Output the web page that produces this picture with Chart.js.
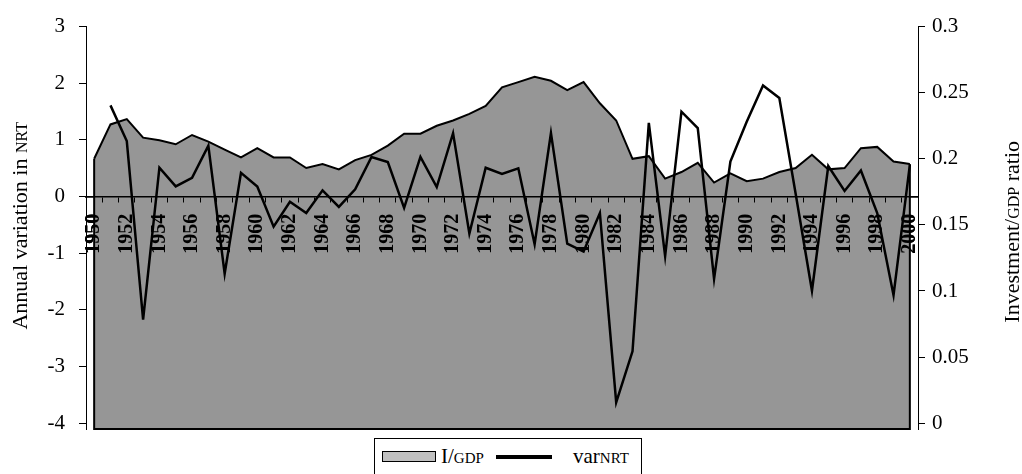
<!DOCTYPE html>
<html>
<head>
<meta charset="utf-8">
<script src="https://cdn.jsdelivr.net/npm/chart.js@4.4.1/dist/chart.umd.min.js"></script>
<style>
  html, body { margin: 0; padding: 0; background: #fff; }
  #wrap { position: relative; width: 1022px; height: 474px; overflow: hidden; }
  #legend {
    position: absolute; left: 374px; top: 438px; width: 268px; height: 42px;
    border: 1px solid #000; box-sizing: border-box; color: #000; background: #fff;
  }
  #legend .sw { position: absolute; left: 7px; top: 12px; width: 54px; height: 11px; box-sizing: border-box; background: #c0c0c0; border: 1px solid #000; }
  #legend .ln { position: absolute; left: 121px; top: 16px; width: 56px; height: 4px; background: #000; }
  #legend .tx { position: absolute; top: 0; height: 34px; line-height: 34px; font-size: 21px; white-space: nowrap; }
  #legend .tx small { font-size: 15px; }
</style>
</head>
<body>
<div id="wrap">
  <canvas id="chart"></canvas>
  <div id="legend">
    <div class="sw"></div><div class="tx" style="left:66px">I/<small>GDP</small></div>
    <div class="ln"></div><div class="tx" style="left:198px">var<small>NRT</small></div>
  </div>
</div>
<script>
// years on the category axis
const years = ['1950', '1951', '1952', '1953', '1954', '1955', '1956', '1957', '1958', '1959',
  '1960', '1961', '1962', '1963', '1964', '1965', '1966', '1967', '1968', '1969',
  '1970', '1971', '1972', '1973', '1974', '1975', '1976', '1977', '1978', '1979',
  '1980', '1981', '1982', '1983', '1984', '1985', '1986', '1987', '1988', '1989',
  '1990', '1991', '1992', '1993', '1994', '1995', '1996', '1997', '1998', '1999', '2000'];

// investment / GDP ratio (right axis, area)
const investGdp = [0.200, 0.226, 0.230, 0.216, 0.214, 0.211, 0.218, 0.213, 0.207, 0.201,
  0.208, 0.201, 0.201, 0.193, 0.196, 0.192, 0.199, 0.203, 0.210, 0.219,
  0.219, 0.225, 0.229, 0.234, 0.240, 0.254, 0.258, 0.262, 0.259, 0.252,
  0.258, 0.242, 0.229, 0.200, 0.202, 0.185, 0.190, 0.197, 0.182, 0.189,
  0.183, 0.185, 0.190, 0.193, 0.203, 0.192, 0.193, 0.208, 0.209, 0.198, 0.196];

// annual variation in NRT (left axis, line)
const varNrt = [null, 1.61, 0.98, -2.17, 0.51, 0.18, 0.33, 0.90, -1.36, 0.42,
  0.18, -0.53, -0.09, -0.29, 0.11, -0.18, 0.13, 0.70, 0.61, -0.20,
  0.70, 0.17, 1.12, -0.65, 0.51, 0.40, 0.50, -0.84, 1.12, -0.83,
  -0.97, -0.29, -3.63, -2.73, 1.30, -1.05, 1.50, 1.21, -1.45, 0.62,
  1.32, 1.96, 1.74, 0.05, -1.66, 0.54, 0.10, 0.46, -0.29, -1.74, 0.56];

const leftTicks = [-4, -3, -2, -1, 0, 1, 2, 3];
const rightTicks = [0, 0.05, 0.1, 0.15, 0.2, 0.25, 0.3];

// pick a Times-like face that is really installed
function pickSerif() {
  const c = document.createElement('canvas').getContext('2d');
  const sample = 'Annual variation 0123456789';
  c.font = '40px monospace';
  const base = c.measureText(sample).width;
  const names = ['Liberation Serif', 'Times New Roman', 'Tinos', 'Nimbus Roman', 'Nimbus Roman No9 L', 'FreeSerif', 'Noto Serif', 'DejaVu Serif'];
  for (const n of names) {
    c.font = '40px "' + n + '", monospace';
    if (Math.abs(c.measureText(sample).width - base) > 0.5) return '"' + n + '", serif';
  }
  return 'serif';
}
const SERIF = pickSerif();
document.getElementById('legend').style.fontFamily = SERIF;
Chart.defaults.font.family = SERIF;
Chart.defaults.color = '#000';

// outline the sides and bottom of the area, then put the x axis over it
const areaFrame = {
  id: 'areaFrame',
  afterDatasetDraw(chart, args) {
    if (args.index !== 1) return;
    const pts = args.meta.data;
    const first = pts[0], last = pts[pts.length - 1];
    const bottom = chart.chartArea.bottom;
    const ctx = chart.ctx;
    ctx.save();
    ctx.strokeStyle = '#000';
    ctx.lineWidth = 2;
    ctx.beginPath();
    ctx.moveTo(first.x, first.y);
    ctx.lineTo(first.x, bottom);
    ctx.lineTo(last.x, bottom);
    ctx.lineTo(last.x, last.y);
    ctx.stroke();
    ctx.restore();
    chart.scales.x.draw(chart.chartArea);
  }
};

function drawVertical(ctx, parts, cx, cy) {
  ctx.save();
  ctx.translate(cx, cy);
  ctx.rotate(-Math.PI / 2);
  ctx.fillStyle = '#000';
  ctx.textAlign = 'left';
  ctx.textBaseline = 'alphabetic';
  let total = 0;
  const widths = parts.map(([t, s]) => {
    ctx.font = s + 'px ' + SERIF;
    const w = ctx.measureText(t).width;
    total += w;
    return w;
  });
  let x = -total / 2;
  parts.forEach(([t, s], i) => {
    ctx.font = s + 'px ' + SERIF;
    ctx.fillText(t, x, 7);
    x += widths[i];
  });
  ctx.restore();
}

// axis titles with small-caps abbreviations
const axisTitles = {
  id: 'axisTitles',
  afterDraw(chart) {
    const { ctx, chartArea } = chart;
    const cy = (chartArea.top + chartArea.bottom) / 2;
    drawVertical(ctx, [['Annual variation in ', 22], ['NRT', 16]], chartArea.left - 66, cy - 2);
    drawVertical(ctx, [['Investment/', 22], ['GDP', 16], [' ratio', 22]], chartArea.right + 94, cy + 4);
  }
};

new Chart(document.getElementById('chart'), {
  type: 'line',
  data: {
    labels: years,
    datasets: [
      {
        label: 'varNRT',
        data: varNrt,
        yAxisID: 'y',
        borderColor: '#000',
        borderWidth: 2.5,
        pointRadius: 0,
        tension: 0,
        fill: false,
        order: 0
      },
      {
        label: 'I/GDP',
        data: investGdp,
        yAxisID: 'y1',
        borderColor: '#000',
        borderWidth: 2,
        backgroundColor: '#969696',
        pointRadius: 0,
        tension: 0,
        fill: 'start',
        order: 1
      }
    ]
  },
  options: {
    responsive: true,
    maintainAspectRatio: false,
    animation: false,
    layout: { padding: { top: 19, bottom: 45, left: 0, right: 0 } },
    plugins: { legend: { display: false }, tooltip: { enabled: false } },
    scales: {
      x: {
        type: 'category',
        offset: true,
        position: { y: 0 },
        z: -1,
        grid: { drawOnChartArea: false, drawTicks: true, tickLength: 5, offset: true, color: '#000' },
        border: { color: '#000', width: 1.5 },
        ticks: {
          autoSkip: false,
          minRotation: 90,
          maxRotation: 90,
          padding: 12,
          font: { size: 20, weight: 'bold' },
          callback: (v, i) => (i % 2 === 0 ? years[i] : '')
        }
      },
      y: {
        position: 'left',
        min: -4.1,
        max: 3,
        afterBuildTicks: s => { s.ticks = leftTicks.map(v => ({ value: v })); },
        afterFit: s => { s.width = 86; },
        grid: { drawOnChartArea: false, tickLength: 7, color: '#000' },
        border: { color: '#000', width: 1 },
        ticks: { padding: 14, font: { size: 21 } }
      },
      y1: {
        position: 'right',
        min: -0.0044,
        max: 0.3,
        afterBuildTicks: s => { s.ticks = rightTicks.map(v => ({ value: v })); },
        afterFit: s => { s.width = 104; },
        grid: { drawOnChartArea: false, tickLength: 7, color: '#000' },
        border: { color: '#000', width: 1 },
        ticks: { padding: 7, font: { size: 21 }, callback: v => String(Math.round(v * 100) / 100) }
      }
    }
  },
  plugins: [areaFrame, axisTitles]
});
</script>
</body>
</html>
